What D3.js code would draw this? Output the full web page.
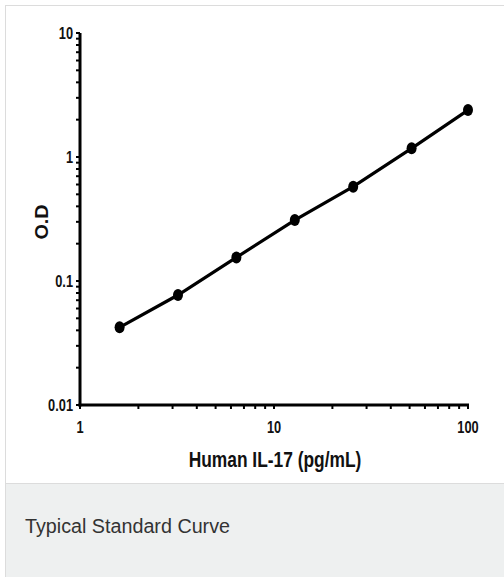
<!DOCTYPE html>
<html><head><meta charset="utf-8">
<script src="https://cdn.jsdelivr.net/npm/d3@7"></script>
<style>
html,body{margin:0;padding:0;background:#fff;}
svg{display:block;}
</style></head>
<body>
<script>
const concentrations = [1.6, 3.2, 6.4, 12.8, 25.6, 51.2, 100];
const odValues = [0.0423, 0.0771, 0.155, 0.310, 0.576, 1.175, 2.39];
const xTicks = [1, 10, 100];
const yTicks = [0.01, 0.1, 1, 10];
const xTitle = "Human IL-17 (pg/mL)";
const yTitle = "O.D";
const caption = "Typical Standard Curve";

const W = 504, H = 577;
const svg = d3.select("body").append("svg").attr("width", W).attr("height", H);

// card
svg.append("rect").attr("x",5.5).attr("y",5.5).attr("width",W).attr("height",H).attr("fill","#fff").attr("stroke","#dcdcdc");
svg.append("rect").attr("x",5.5).attr("y",483.5).attr("width",W).attr("height",H).attr("fill","#eef0f0").attr("stroke","#dcdcdc");

const x = d3.scaleLog().domain([1,100]).range([80,468]);
const y = d3.scaleLog().domain([0.01,10]).range([405,33]);

const font = "'Liberation Sans',Arial,sans-serif";
const SX = 0.8;

// minor ticks
const xMinor = x.ticks(); const yMinor = y.ticks();
const g = svg.append("g");
g.selectAll(".xm").data(xMinor).enter().append("line")
  .attr("x1",d=>x(d)).attr("x2",d=>x(d)).attr("y1",405).attr("y2",409)
  .attr("stroke","#000").attr("stroke-width",2);
g.selectAll(".ym").data(yMinor).enter().append("line")
  .attr("x1",76).attr("x2",80).attr("y1",d=>y(d)).attr("y2",d=>y(d))
  .attr("stroke","#000").attr("stroke-width",2);

// axes lines
g.append("line").attr("x1",80).attr("x2",80).attr("y1",33).attr("y2",406.5).attr("stroke","#000").attr("stroke-width",3);
g.append("line").attr("x1",78.5).attr("x2",469).attr("y1",405).attr("y2",405).attr("stroke","#000").attr("stroke-width",3);

// tick labels
g.selectAll(".xl").data(xTicks).enter().append("text")
  .attr("transform",d=>`translate(${x(d)},433) scale(${SX},1)`).attr("text-anchor","middle")
  .attr("font-family",font).attr("font-weight","bold").attr("font-size",16).attr("fill","#111")
  .text(d=>d);
g.selectAll(".yl").data(yTicks).enter().append("text")
  .attr("transform",d=>`translate(73,${y(d)+6}) scale(${SX},1)`).attr("text-anchor","end")
  .attr("font-family",font).attr("font-weight","bold").attr("font-size",16).attr("fill","#111")
  .text(d=>d);

// titles
svg.append("text").attr("transform","translate(275,467) scale(0.79,1)").attr("text-anchor","middle")
  .attr("font-family",font).attr("font-weight","bold").attr("font-size",22).attr("fill","#111").text(xTitle);
svg.append("text").attr("transform","translate(48,222) rotate(-90) scale(1.1,1)").attr("text-anchor","middle")
  .attr("font-family",font).attr("font-weight","bold").attr("font-size",18).attr("fill","#111").text(yTitle);

// line and points
const data = concentrations.map((c,i)=>({c, v: odValues[i]}));
svg.append("path").datum(data)
  .attr("d", d3.line().x(d=>x(d.c)).y(d=>y(d.v)))
  .attr("fill","none").attr("stroke","#000").attr("stroke-width",3.2);
svg.selectAll(".pt").data(data).enter().append("ellipse")
  .attr("cx",d=>x(d.c)).attr("cy",d=>y(d.v)).attr("rx",5).attr("ry",6).attr("fill","#000");

// caption
svg.append("text").attr("x",25).attr("y",533)
  .attr("font-family",font).attr("font-size",20).attr("textLength",205).attr("lengthAdjust","spacingAndGlyphs")
  .attr("fill","#333").text(caption);
</script>
</body></html>
